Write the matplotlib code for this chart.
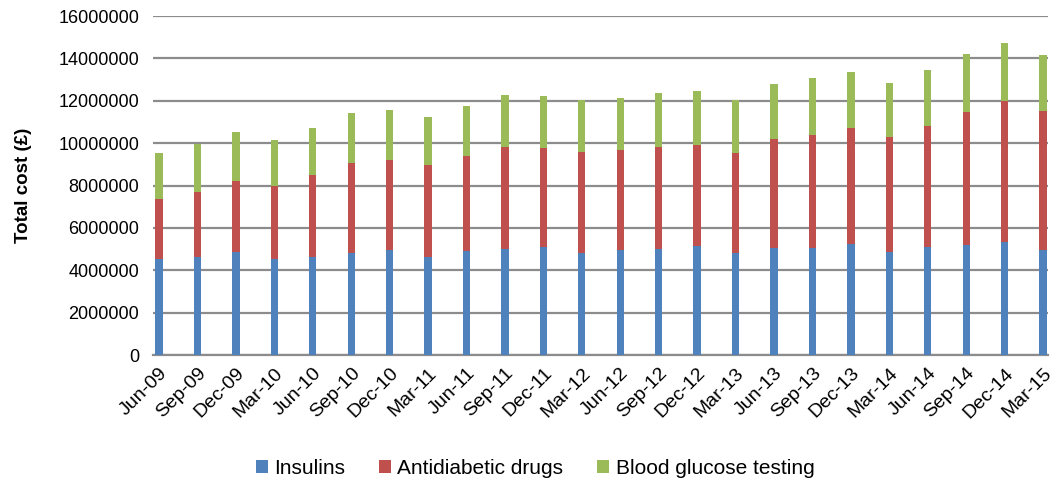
import matplotlib
matplotlib.use('Agg')
import matplotlib.pyplot as plt
from matplotlib.ticker import FuncFormatter
import numpy as np

# Quarterly prescribing cost (GBP)
quarters = ['Jun-09', 'Sep-09', 'Dec-09', 'Mar-10', 'Jun-10', 'Sep-10', 'Dec-10',
            'Mar-11', 'Jun-11', 'Sep-11', 'Dec-11', 'Mar-12', 'Jun-12', 'Sep-12',
            'Dec-12', 'Mar-13', 'Jun-13', 'Sep-13', 'Dec-13', 'Mar-14', 'Jun-14',
            'Sep-14', 'Dec-14', 'Mar-15']

insulins = [4530000, 4650000, 4870000, 4530000, 4640000, 4800000, 4970000,
            4640000, 4890000, 5000000, 5080000, 4810000, 4940000, 5000000,
            5130000, 4800000, 5030000, 5050000, 5220000, 4870000, 5110000,
            5200000, 5330000, 4980000]

antidiabetic = [2830000, 3040000, 3340000, 3430000, 3850000, 4260000, 4240000,
                4320000, 4510000, 4800000, 4700000, 4780000, 4750000, 4840000,
                4790000, 4740000, 5160000, 5340000, 5500000, 5410000, 5710000,
                6280000, 6680000, 6530000]

glucose_testing = [2180000, 2280000, 2310000, 2200000, 2250000, 2360000, 2380000,
                   2270000, 2360000, 2460000, 2440000, 2440000, 2450000, 2550000,
                   2560000, 2500000, 2610000, 2710000, 2660000, 2550000, 2650000,
                   2730000, 2740000, 2640000]

BLUE = '#4F81BD'
RED = '#C0504D'
GREEN = '#9BBB59'
GRID = '#8C8C8C'

plt.rcParams['font.family'] = ['Liberation Sans', 'DejaVu Sans']

fig = plt.figure(figsize=(10.53, 4.88), dpi=100)
ax = fig.add_axes([0.1453, 0.2725, 0.85, 0.6945])

x = np.arange(len(quarters))
w = 0.19
ins = np.array(insulins)
anti = np.array(antidiabetic)
glu = np.array(glucose_testing)

ax.bar(x, ins, w, color=BLUE, label='Insulins', zorder=3)
ax.bar(x, anti, w, bottom=ins, color=RED, label='Antidiabetic drugs', zorder=3)
ax.bar(x, glu, w, bottom=ins + anti, color=GREEN, label='Blood glucose testing', zorder=3)

ax.set_ylim(0, 16000000)
ax.set_xlim(-0.156, 23.13)
ax.set_yticks(np.arange(0, 16000001, 2000000))
ax.yaxis.set_major_formatter(FuncFormatter(lambda v, p: f'{int(v)}'))
ax.yaxis.grid(True, color=GRID, linewidth=1.6, zorder=0)
ax.set_axisbelow(True)

for s in ['left', 'right', 'top']:
    ax.spines[s].set_visible(False)
ax.spines['bottom'].set_color(GRID)
ax.spines['bottom'].set_linewidth(1.6)
ax.tick_params(axis='both', length=0)
ax.tick_params(axis='y', pad=10, labelsize=13)

ax.set_xticks(x)
ax.set_xticklabels(quarters, rotation=45, ha='right', rotation_mode='anchor')
ax.tick_params(axis='x', pad=7, labelsize=14)

ax.set_ylabel('Total cost (£)', fontsize=13.5, fontweight='bold', labelpad=19)

fig.legend(loc='lower center', bbox_to_anchor=(0.508, -0.018), ncol=3, frameon=False,
           fontsize=15, handlelength=0.6, handleheight=0.6, handletextpad=0.3,
           columnspacing=1.6)

fig.savefig('out.png', dpi=100)
